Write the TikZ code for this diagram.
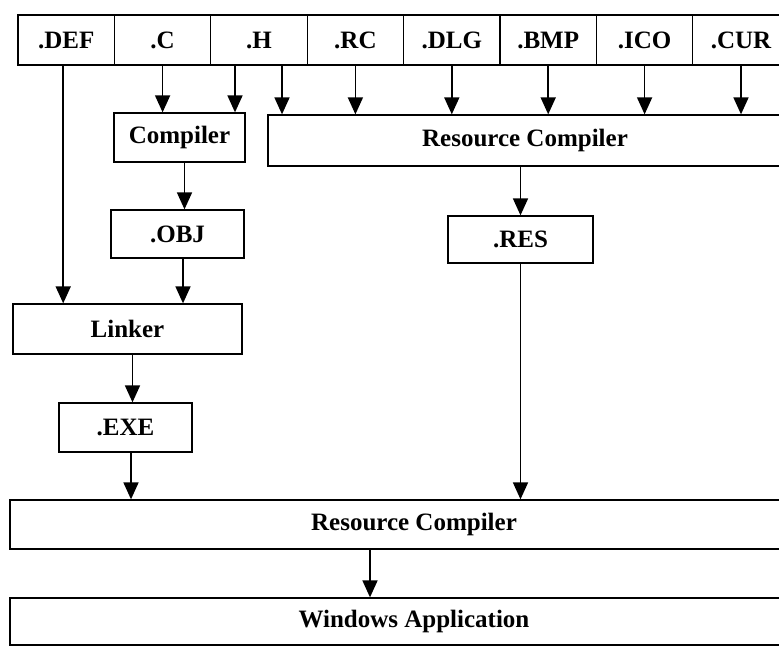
\documentclass[tikz,border=0pt]{standalone}
\usepackage{fontspec}
\setmainfont{Liberation Serif}
\usetikzlibrary{arrows.meta}

\begin{document}
\begin{tikzpicture}[x=1pt,y=-1pt,
    box/.style={draw,line width=1.3pt,inner sep=0pt,
                font=\bfseries\fontsize{25}{28}\selectfont},
    arr/.style={line width=1.7pt,-{Triangle[length=17pt,width=15pt]}}
   ]
\useasboundingbox (0,0) rectangle (779,651);
\clip (0,0) rectangle (779,651);

\foreach \n/\t [count=\i from 0] in {def/.DEF,c/.C,h/.H,rc/.RC,dlg/.DLG,bmp/.BMP,ico/.ICO,cur/.CUR}
  \node[box,minimum width=96.4pt,minimum height=50pt] (\n) at (66.2+96.4*\i,40) {\t};

\node[box,minimum width=131pt,minimum height=49pt] (compiler) at (179.5,137.5) {Compiler};
\node[box,minimum width=514pt,minimum height=51pt] (rescomp) at (525,140.5) {Resource Compiler};
\node[box,minimum width=133pt,minimum height=48pt] (obj) at (177.5,234) {.OBJ};
\node[box,minimum width=145pt,minimum height=47pt] (res) at (520.5,239.5) {.RES};
\node[box,minimum width=229pt,minimum height=50pt] (linker) at (127.5,329) {Linker};
\node[box,minimum width=133pt,minimum height=49pt] (exe) at (125.5,427.5) {.EXE};
\node[box,minimum width=808pt,minimum height=49pt] (rcfinal) at (414,524.5) {Resource Compiler};
\node[box,minimum width=808pt,minimum height=47pt] (winapp) at (414,621.5) {Windows Application};

\draw[arr] ([xshift=-3pt]def.south) -- ([xshift=-3pt]def.south |- linker.north);
\draw[arr] (c.south) -- (c.south |- compiler.north);
\draw[arr] ([xshift=-24pt]h.south) -- ([xshift=-24pt]h.south |- compiler.north);
\draw[arr] ([xshift=23pt]h.south) -- ([xshift=23pt]h.south |- rescomp.north);
\foreach \n in {rc,dlg,bmp,ico,cur}
  \draw[arr] (\n.south) -- (\n.south |- rescomp.north);
\draw[arr] ([xshift=5pt]compiler.south) -- ([xshift=5pt]compiler.south |- obj.north);
\draw[arr] (res.north |- rescomp.south) -- (res.north);
\draw[arr] ([xshift=5.5pt]obj.south) -- ([xshift=5.5pt]obj.south |- linker.north);
\draw[arr] ([xshift=5pt]linker.south) -- ([xshift=5pt]linker.south |- exe.north);
\draw[arr] ([xshift=5.5pt]exe.south) -- ([xshift=5.5pt]exe.south |- rcfinal.north);
\draw[arr] (res.south) -- (res.south |- rcfinal.north);
\draw[arr] ([xshift=-44pt]rcfinal.south) -- ([xshift=-44pt]rcfinal.south |- winapp.north);
\end{tikzpicture}
\end{document}
